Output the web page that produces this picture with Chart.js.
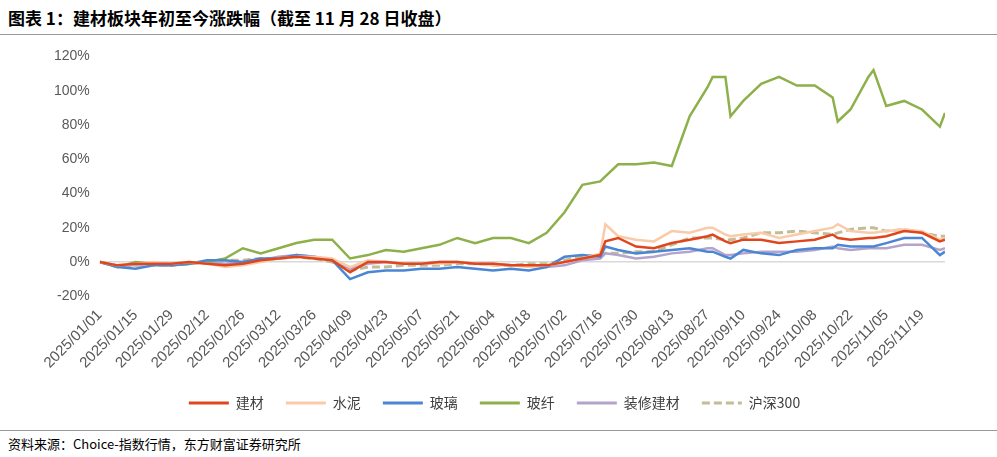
<!DOCTYPE html>
<html><head><meta charset="utf-8">
<script src="https://cdn.jsdelivr.net/npm/chart.js@4"></script>
<style>
body{margin:0;width:997px;height:457px;background:#fff;font-family:"Noto Sans CJK SC","Liberation Sans",sans-serif;position:relative;overflow:hidden}
#t{position:absolute;left:8px;top:5px;font-size:17px;font-weight:bold;color:#000}
#l1{position:absolute;left:0;top:34px;width:997px;border-top:1px solid #999}
#l2{position:absolute;left:0;top:430px;width:997px;border-top:1px solid #999}
#f{position:absolute;left:8px;top:434px;font-size:13px;color:#000}
#c{position:absolute;left:0;top:38px}
</style></head><body>
<div id="t">图表 1：建材板块年初至今涨跌幅（截至 11 月 28 日收盘）</div>
<div id="l1"></div>
<canvas id="c" width="997" height="388"></canvas>
<div id="l2"></div>
<div id="f">资料来源：Choice-指数行情，东方财富证券研究所</div>
<script>
const dates=["2025/01/01","2025/01/08","2025/01/15","2025/01/22","2025/01/29","2025/02/05","2025/02/12","2025/02/19","2025/02/26","2025/03/05","2025/03/12","2025/03/19","2025/03/26","2025/04/02","2025/04/09","2025/04/16","2025/04/23","2025/04/30","2025/05/07","2025/05/14","2025/05/21","2025/05/28","2025/06/04","2025/06/11","2025/06/18","2025/06/25","2025/07/02","2025/07/09","2025/07/16","2025/07/18","2025/07/23","2025/07/30","2025/08/06","2025/08/13","2025/08/20","2025/08/27","2025/08/29","2025/09/03","2025/09/05","2025/09/10","2025/09/17","2025/09/24","2025/10/01","2025/10/08","2025/10/15","2025/10/17","2025/10/22","2025/10/29","2025/10/31","2025/11/05","2025/11/12","2025/11/19","2025/11/26","2025/11/28"];
const jiancai=[0,-2,-1,-1,-1,0,-1,-2,-1,1,2,3,2,1,-6,0,0,-1,-1,0,0,-1,-1,-2,-2,-2,0,2,4,12,14,9,8,11,13,15,16,12,11,13,13,11,12,13,16,14,13,14,14,15,18,17,12,13];
const shuini=[0,-2,-1,0,-1,0,-1,-3,-2,0,2,3,3,2,-3,1,0,-1,-1,-1,0,-1,-2,-2,-3,-2,0,2,5,22,15,13,12,18,17,20,20,16,15,16,17,14,16,18,20,22,18,17,17,18,19,18,13,14];
const boli=[0,-3,-4,-2,-2,-1,1,1,0,2,2,4,3,1,-10,-6,-5,-5,-4,-4,-3,-4,-5,-4,-5,-3,3,4,3,9,7,5,6,7,8,6,6,3,2,7,5,4,7,8,8,10,9,9,9,11,14,14,4,6];
const boxian=[0,-3,0,-1,-2,-1,0,2,8,5,8,11,13,13,2,4,7,6,8,10,14,11,14,14,11,17,29,45,47,50,57,57,58,56,85,102,108,108,85,94,104,108,103,103,96,82,89,108,112,91,94,89,79,87];
const zhuangxiu=[0,-2,-2,-1,-2,-1,0,-1,0,1,3,4,3,1,-4,-1,0,-1,-1,0,0,-1,-1,-2,-2,-3,-2,1,2,5,4,2,3,5,6,8,8,4,4,5,6,6,6,7,9,8,7,8,8,8,10,10,7,8];
const hs300=[0,-3,-2,-2,-2,-1,0,1,1,2,2,3,2,0,-5,-3,-3,-2,-2,-2,-1,-1,-2,-2,-1,-1,1,3,4,5,5,6,6,10,14,14,14,13,13,14,17,17,18,17,16,17,19,20,20,18,19,17,15,15];
const yTicks=[-20,0,20,40,60,80,100,120];
const D0=Date.UTC(2025,0,1);
const day=s=>{const p=s.split('/');return (Date.UTC(+p[0],+p[1]-1,+p[2])-D0)/86400000;};
const lbl=d=>{const t=new Date(D0+d*86400000);return t.getUTCFullYear()+'/'+String(t.getUTCMonth()+1).padStart(2,'0')+'/'+String(t.getUTCDate()).padStart(2,'0');};
const mk=(label,arr,color,extra)=>Object.assign({label,data:arr.map((v,i)=>({x:day(dates[i]),y:v})),borderColor:color,backgroundColor:color,borderWidth:2.5,pointRadius:0,tension:0},extra||{});
new Chart(document.getElementById('c'),{type:'line',
data:{datasets:[mk('建材',jiancai,'#E0461E'),mk('水泥',shuini,'#F9CBA8'),mk('玻璃',boli,'#4A86D4'),mk('玻纤',boxian,'#8DB04A'),mk('装修建材',zhuangxiu,'#B4A4CC'),mk('沪深300',hs300,'#C4BC96',{borderDash:[8,4],borderWidth:3})]},
options:{responsive:false,animation:false,layout:{padding:{left:44,right:52,top:8,bottom:6}},
plugins:{legend:{position:'bottom',labels:{boxWidth:40,boxHeight:0,font:{size:14,family:'"Noto Sans CJK SC"'},color:'#404040',padding:22,
generateLabels:ch=>ch.data.datasets.map((d,i)=>({text:d.label,strokeStyle:d.borderColor,fillStyle:d.borderColor,lineWidth:3,lineDash:d.borderDash||[],datasetIndex:i,fontColor:'#404040'}))}},tooltip:{enabled:false}},
scales:{x:{type:'linear',min:0,max:day('2025/11/28'),grid:{display:false},border:{display:false},
afterBuildTicks:ax=>{ax.ticks=[];for(let d=0;d<=day('2025/11/28');d+=14)ax.ticks.push({value:d});},
ticks:{callback:v=>lbl(v),maxRotation:45,minRotation:45,font:{size:15,family:'"Liberation Sans"'},color:'#595959',padding:2}},
y:{min:-20,max:120,afterBuildTicks:ax=>{ax.ticks=yTicks.map(v=>({value:v}));},border:{display:false},
grid:{color:c=>c.tick&&c.tick.value===0?'#d9d9d9':'rgba(0,0,0,0)',lineWidth:1.5,drawTicks:false},
ticks:{callback:v=>v+'%',font:{size:14,family:'"Liberation Sans"'},color:'#595959',padding:10}}}}});
</script></body></html>
